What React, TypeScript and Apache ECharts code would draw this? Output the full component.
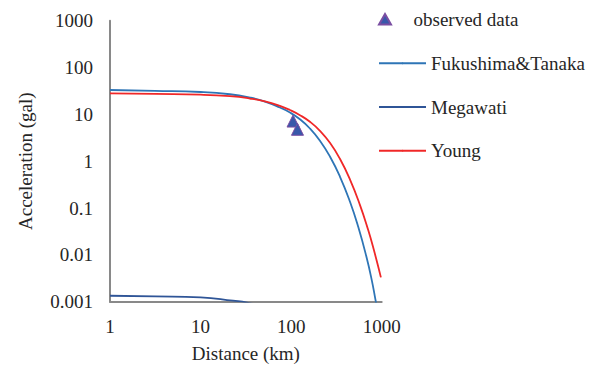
import React, { useEffect, useRef } from "react";
import * as echarts from "echarts";

// Distance (km) / acceleration (gal)
const observedDistance = [105, 117.5];
const observedAccel = [7.2, 4.8];

const fukushimaDistance = [1, 3.14, 10, 21.1, 35.1, 51.4, 75.2, 97, 125.1, 161.3, 208, 268.2, 345.6, 445.7, 550.5, 681.4, 779.7, 852, 885];
const fukushimaAccel = [33.1, 31.8, 30.0, 26.9, 22.9, 18.8, 14.0, 10.96, 7.84, 4.99, 2.74, 1.26, 0.471, 0.1378, 0.0397, 0.00878, 0.00279, 0.00112, 0.00077];

const megawatiDistance = [1, 3.14, 10, 22.8, 32.5, 45];
const megawatiAccel = [0.00134, 0.0013, 0.00124, 0.00105, 0.00096, 0.0008];

const youngDistance = [1, 3.14, 10, 21.1, 35.1, 51.4, 75.2, 97, 125.1, 161.3, 208, 268.2, 345.6, 445.7, 574.6, 709.6, 820.1, 980];
const youngAccel = [28.2, 27.3, 26.3, 24.4, 21.8, 18.96, 15.2, 12.42, 9.62, 6.94, 4.46, 2.47, 1.125, 0.411, 0.1171, 0.0338, 0.01266, 0.00331];

const xTickLabels = ["1", "10", "100", "1000"];
const yTickLabels = ["0.001", "0.01", "0.1", "1", "10", "100", "1000"];

const seriesNames = ["observed data", "Fukushima&Tanaka", "Megawati", "Young"];

const zip = (xs: number[], ys: number[]) => xs.map((x, i) => [x, ys[i]]);

const FONT = "Liberation Serif, serif";
const TEXT = "#262626";
const AXIS = "#898989";
const FS = 19;

export default function App() {
  const ref = useRef<HTMLDivElement>(null);
  useEffect(() => {
    if (!ref.current) return;
    const chart = echarts.init(ref.current, null, { renderer: "svg" });
    const labelFor = (labels: string[]) => (v: number) => {
      const s = String(Number(v.toPrecision(1)));
      return labels.includes(s) ? s : "";
    };
    const legendText = { fontFamily: FONT, fontSize: FS, color: TEXT, lineHeight: 20 };
    chart.setOption({
      animation: false,
      backgroundColor: "#ffffff",
      textStyle: { fontFamily: FONT },
      grid: {
        left: 110,
        top: 20.7,
        right: 210.3,
        bottom: 63.3,
        containLabel: false,
        outerBoundsMode: "none",
      },
      legend: [
        {
          orient: "vertical",
          left: 378,
          top: 9.3,
          padding: 0,
          itemWidth: 47,
          itemHeight: 10.5,
          symbolKeepAspect: true,
          textStyle: legendText,
          data: [{ name: seriesNames[0], icon: "path://M6,0L12,10.5L0,10.5Z" }],
        },
        {
          orient: "vertical",
          left: 378,
          top: 53.3,
          padding: 0,
          itemWidth: 47,
          itemHeight: 2,
          itemGap: 23.7,
          textStyle: legendText,
          data: seriesNames.slice(1).map((n) => ({ name: n })),
        },
      ],
      xAxis: {
        type: "log",
        logBase: 10,
        min: 1,
        max: 1000,
        name: "Distance (km)",
        nameLocation: "middle",
        nameGap: 42,
        nameTextStyle: { fontFamily: FONT, fontSize: FS, color: TEXT },
        axisLine: { show: true, onZero: false, lineStyle: { color: AXIS, width: 2 } },
        axisTick: { show: false },
        splitLine: { show: false },
        minorSplitLine: { show: false },
        axisLabel: {
          fontFamily: FONT,
          fontSize: FS,
          color: TEXT,
          margin: 15,
          formatter: labelFor(xTickLabels),
        },
      },
      yAxis: {
        type: "log",
        logBase: 10,
        min: 0.001,
        max: 1000,
        name: "Acceleration (gal)",
        nameLocation: "middle",
        nameGap: 75,
        nameTextStyle: { fontFamily: FONT, fontSize: FS, color: TEXT },
        axisLine: { show: true, onZero: false, lineStyle: { color: AXIS, width: 2 } },
        axisTick: { show: false },
        splitLine: { show: false },
        axisLabel: {
          fontFamily: FONT,
          fontSize: FS,
          color: TEXT,
          margin: 17,
          formatter: labelFor(yTickLabels),
        },
      },
      series: [
        {
          name: seriesNames[0],
          type: "scatter",
          symbol: "triangle",
          symbolSize: [12, 12],
          itemStyle: { color: "#3858AA", borderColor: "#7A4EA2", borderWidth: 1, opacity: 1 },
          data: zip(observedDistance, observedAccel),
          z: 5,
        },
        {
          name: seriesNames[1],
          type: "line",
          smooth: 0.5,
          symbol: "none",
          lineStyle: { color: "#2E75B6", width: 1.8 },
          itemStyle: { color: "#2E75B6" },
          data: zip(fukushimaDistance, fukushimaAccel),
        },
        {
          name: seriesNames[2],
          type: "line",
          smooth: 0.5,
          symbol: "none",
          lineStyle: { color: "#2F5597", width: 1.8 },
          itemStyle: { color: "#2F5597" },
          data: zip(megawatiDistance, megawatiAccel),
        },
        {
          name: seriesNames[3],
          type: "line",
          smooth: 0.5,
          symbol: "none",
          lineStyle: { color: "#F02828", width: 1.8 },
          itemStyle: { color: "#F02828" },
          data: zip(youngDistance, youngAccel),
        },
      ],
    });
    return () => chart.dispose();
  }, []);
  return (
    <div
      ref={ref}
      style={{ position: "fixed", left: 0, top: 0, width: 592, height: 365, background: "#fff" }}
    />
  );
}
